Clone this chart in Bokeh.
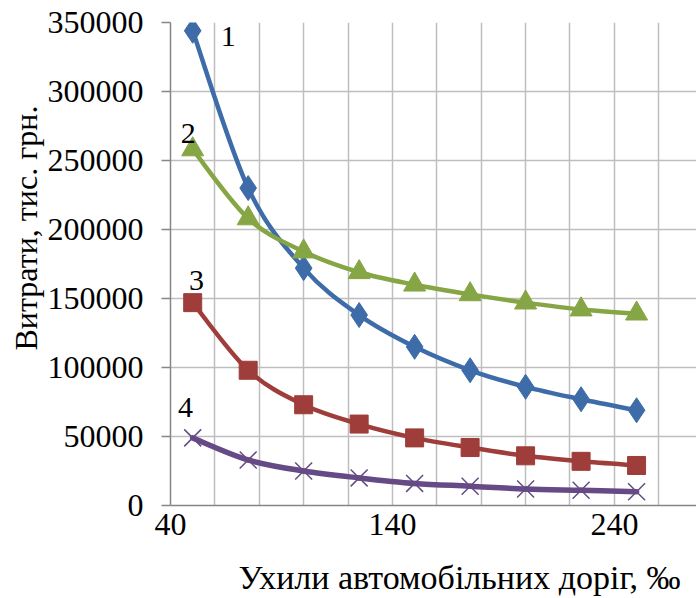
import numpy as np
from bokeh.plotting import figure
from bokeh.models import Range1d, FixedTicker, NumeralTickFormatter, Label, Title
from bokeh.embed import file_html
from bokeh.resources import INLINE

# ---- data ----
slopes = [50, 75, 100, 125, 150, 175, 200, 225, 250]
series1 = [344000, 230000, 172000, 138000, 115000, 98000, 86000, 77000, 69000]
series2 = [258000, 208000, 184000, 169000, 160000, 153000, 147000, 142000, 139000]
series3 = [147000, 98000, 73000, 59000, 49000, 42000, 36000, 32000, 29000]
series4 = [49000, 33000, 25000, 20000, 16000, 14000, 12000, 11000, 10000]
series_names = ["1", "2", "3", "4"]
x_ticks = [40, 140, 240]
y_ticks = [0, 50000, 100000, 150000, 200000, 250000, 300000, 350000]
x_title = "Ухили автомобільних доріг, ‰"
y_title = "Витрати, тис. грн."

FONT = "Liberation Serif"
FS = "32px"

p = figure(width=696, height=598, output_backend="svg", toolbar_location=None,
           x_range=Range1d(40, 277), y_range=Range1d(0, 350000),
           min_border_left=170, min_border_right=0, min_border_top=22, min_border_bottom=93)
p.outline_line_color = None
p.background_fill_color = "white"
p.border_fill_color = "white"

# grid
p.xgrid.ticker = FixedTicker(ticks=list(range(40, 281, 20)))
p.ygrid.ticker = FixedTicker(ticks=y_ticks)
for g in (p.xgrid, p.ygrid):
    g.grid_line_color = "#BEBEBE"
    g.grid_line_width = 1.5

# axes
p.xaxis.ticker = FixedTicker(ticks=x_ticks)
p.yaxis.ticker = FixedTicker(ticks=y_ticks)
p.yaxis.formatter = NumeralTickFormatter(format="0")
for ax in (p.xaxis, p.yaxis):
    ax.axis_line_color = "#868686"
    ax.axis_line_width = 1.5
    ax.major_tick_line_color = "#868686"
    ax.major_tick_line_width = 1.5
    ax.minor_tick_line_color = None
    ax.major_tick_in = 0
    ax.major_label_text_font = FONT
    ax.major_label_text_font_size = FS
    ax.major_label_text_color = "black"
p.xaxis.major_tick_out = 0
p.xaxis.major_label_standoff = 8
p.yaxis.major_tick_out = 9
p.yaxis.major_label_standoff = 18


def smooth(xs, ys, color, width):
    xs = np.asarray(xs, float)
    ys = np.asarray(ys, float)
    n = len(xs)
    xp = np.concatenate([[xs[0]], xs, [xs[-1]]])
    yp = np.concatenate([[ys[0]], ys, [ys[-1]]])
    x0, y0 = xs[:-1], ys[:-1]
    x1, y1 = xs[1:], ys[1:]
    cx0 = x0 + (xp[2:n + 1] - xp[0:n - 1]) / 6.0
    cy0 = y0 + (yp[2:n + 1] - yp[0:n - 1]) / 6.0
    cx1 = x1 - (xp[3:n + 2] - xp[1:n]) / 6.0
    cy1 = y1 - (yp[3:n + 2] - yp[1:n]) / 6.0
    p.bezier(x0=x0, y0=y0, x1=x1, y1=y1, cx0=cx0, cy0=cy0, cx1=cx1, cy1=cy1,
             line_color=color, line_width=width, line_cap="round")


c1, c2, c3, c4 = "#3D6CA8", "#86A544", "#9E3D3A", "#654A85"

smooth(slopes, series1, c1, 4.5)
smooth(slopes, series2, c2, 4.5)
smooth(slopes, series3, c3, 4.5)
smooth(slopes, series4, c4, 5.5)

p.scatter(slopes, series1, marker="diamond", size=25, fill_color=c1, line_color=c1)
p.scatter(slopes, series2, marker="triangle", size=22, fill_color=c2, line_color=c2)
p.scatter(slopes, series3, marker="square", size=18, fill_color=c3, line_color=c3)
p.scatter(slopes, series4, marker="x", size=24, line_color=c4, line_width=1.5)

# series number labels
label_pos = [(66, 340000), (48, 269500), (51.7, 163000), (46.8, 71000)]
for name, (lx, ly) in zip(series_names, label_pos):
    p.add_layout(Label(x=lx, y=ly, text=name, text_font=FONT, text_font_size="30px",
                       text_align="center", text_baseline="middle", text_color="black"))

# axis titles
p.add_layout(Title(text=y_title, align="left", offset=155, standoff=0,
                   vertical_align="middle",
                   text_font=FONT, text_font_size=FS, text_font_style="normal",
                   text_color="black"), "left")
p.add_layout(Title(text=x_title, align="left", offset=68, standoff=0,
                   vertical_align="top", padding=(0, 0, 21, 0),
                   text_font=FONT, text_font_size="34px", text_font_style="normal",
                   text_color="black"), "below")

open("out.html", "w").write(file_html(p, INLINE))
